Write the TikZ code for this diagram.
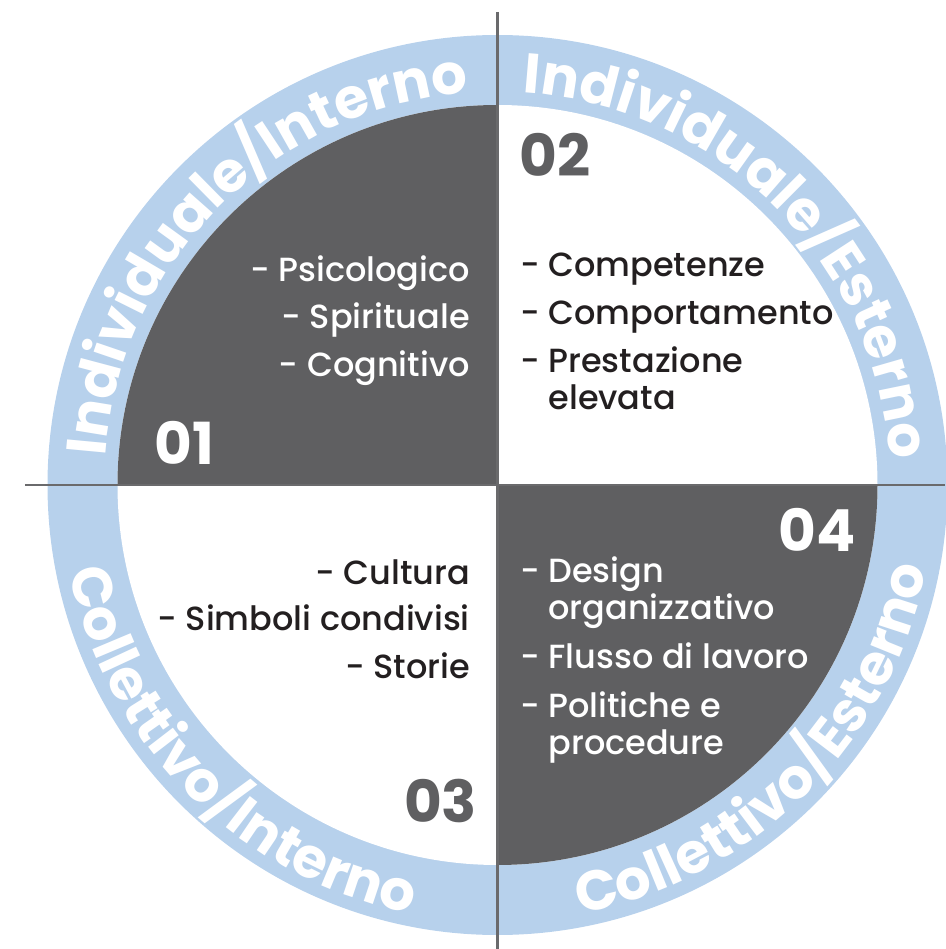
\documentclass[tikz,border=0pt]{standalone}
\usepackage{fontspec}
\IfFontExistsTF{Poppins Medium}{\setmainfont{Poppins Medium}[BoldFont={Poppins Bold}]}{\setmainfont{Poppins}}
\usetikzlibrary{decorations.text}

\definecolor{ringblue}{HTML}{B7D1EC}
\definecolor{quadgray}{HTML}{5F5F61}
\definecolor{axisgray}{HTML}{6A6A6C}
\definecolor{inkblack}{HTML}{231F20}

\newcommand\ringfont{\fontsize{56}{56}\selectfont\bfseries}
\newcommand\hang[2]{-~\begin{tabular}[t]{@{}l@{}}#1\\#2\end{tabular}}

\tikzstyle{item}=[inner sep=0pt,font=\fontsize{33.5}{37}\selectfont]
\tikzstyle{num}=[inner sep=0pt,font=\fontsize{58}{58}\selectfont\bfseries]
\tikzstyle{ring}=[decorate,decoration={text along path,text align=center,text color=white}]
\tikzstyle{axis}=[draw=axisgray,line width=2.5pt]

\begin{document}
\begin{tikzpicture}[x=1pt,y=1pt]
  \useasboundingbox (-497.5,-464) rectangle (447.5,485);

  \fill[ringblue] (0,0) circle[radius=450];
  \fill[white] (0,0) circle[radius=380];
  \fill[quadgray] (0,0) -- (180:380) arc[start angle=180,end angle=90,radius=380] -- cycle;
  \fill[quadgray] (0,0) -- (270:380) arc[start angle=270,end angle=360,radius=380] -- cycle;

  \path[ring,decoration={text={|\ringfont|Individuale/Interno}}]
    (180:393) arc[start angle=180,end angle=90,radius=393];
  \path[ring,decoration={text={|\ringfont|Individuale/Esterno}}]
    (90:393) arc[start angle=90,end angle=0,radius=393];
  \path[ring,decoration={text={|\ringfont|Collettivo/Interno}}]
    (180:437) arc[start angle=180,end angle=270,radius=437];
  \path[ring,decoration={text={|\ringfont|Collettivo/Esterno}}]
    (270:437) arc[start angle=270,end angle=360,radius=437];

  \coordinate (top) at (0,473);
  \coordinate (bottom) at (0,-464);
  \coordinate (left) at (-472.5,0);
  \coordinate (right) at (447.5,0);
  \draw[axis] (top) -- (bottom);
  \draw[axis] (left) -- (right);

  % quadrant 01
  \node[num,white] (n1) at (-313,42.5) {01};
  \node[item,white,anchor=base east] (psi) at (-27.5,203) {- Psicologico};
  \node[item,white,anchor=base east] (spi) at (-27.5,156) {- Spirituale};
  \node[item,white,anchor=base east] (cog) at (-27.5,108) {- Cognitivo};

  % quadrant 02
  \node[num,quadgray] (n2) at (57.5,330) {02};
  \node[item,inkblack,anchor=base west] (comp) at (22.5,208) {- Competenze};
  \node[item,inkblack,anchor=base west] (comport) at (22.5,160) {- Comportamento};
  \node[item,inkblack,anchor=base west] (prest) at (22.5,112) {\hang{Prestazione}{elevata}};

  % quadrant 03
  \node[num,quadgray] (n3) at (-57,-316.5) {03};
  \node[item,inkblack,anchor=base east] (cult) at (-27.5,-100) {- Cultura};
  \node[item,inkblack,anchor=base east] (simb) at (-27.5,-146) {- Simboli condivisi};
  \node[item,inkblack,anchor=base east] (stor) at (-27.5,-193) {- Storie};

  % quadrant 04
  \node[num,white] (n4) at (320,-44.5) {04};
  \node[item,white,anchor=base west] (des) at (22.5,-98) {\hang{Design}{organizzativo}};
  \node[item,white,anchor=base west] (flus) at (22.5,-183) {- Flusso di lavoro};
  \node[item,white,anchor=base west] (pol) at (22.5,-232) {\hang{Politiche e}{procedure}};
\end{tikzpicture}
\end{document}
